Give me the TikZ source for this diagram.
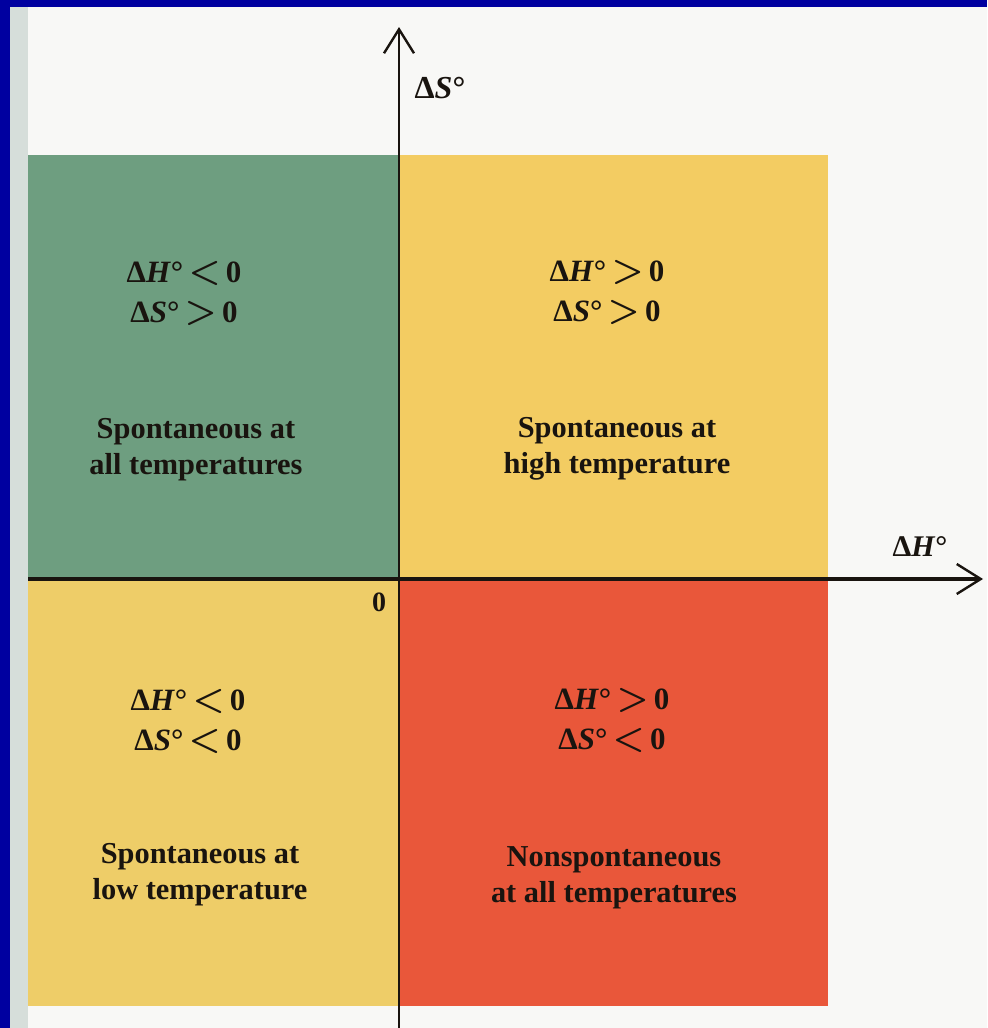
\documentclass[tikz,border=0pt]{standalone}
\usepackage{fontspec}
\setmainfont{Liberation Serif}
\usetikzlibrary{arrows.meta}
\definecolor{qgreen}{RGB}{110,158,128}
\definecolor{qyellow}{RGB}{243,204,98}
\definecolor{qyellowb}{RGB}{238,205,104}
\definecolor{qred}{RGB}{233,87,58}
\definecolor{paper}{RGB}{248,248,246}
\definecolor{leftstrip}{RGB}{214,222,218}
\definecolor{frameblue}{RGB}{0,0,160}
\definecolor{ink}{RGB}{25,20,15}
\newcommand{\rel}[1]{\,\scalebox{1.25}{\boldmath$#1$}\,}
\begin{document}
\begin{tikzpicture}[x=0.5pt,y=-0.5pt,
  cond/.style={align=center, text=ink, font=\fontsize{15.5}{20}\selectfont\bfseries, inner sep=0pt},
  desc/.style={align=center, text=ink, font=\fontsize{15.2}{18}\selectfont\bfseries, inner sep=0pt},
  axlabel/.style={text=ink, font=\fontsize{15}{18}\selectfont\bfseries, inner sep=0pt},
  axis/.style={line width=1.6pt, draw=ink, -{Straight Barb[length=12pt,width=15pt,line width=1.2pt]}}
]
% page and frame
\useasboundingbox (0,0) rectangle (987,1028);
\fill[paper] (0,0) rectangle (987,1028);
\fill[leftstrip] (10,0) rectangle (28,1028);
\fill[frameblue] (0,0) rectangle (987,7);
\fill[frameblue] (0,0) rectangle (10,1028);
% quadrants
\fill[qgreen] (28,155) rectangle (400,580);
\fill[qyellow] (400,155) rectangle (828,580);
\fill[qyellowb] (28,580) rectangle (400,1006);
\fill[qred] (400,580) rectangle (828,1006);
% axes
\coordinate (ybot) at (399,1028);
\coordinate (ytop) at (399,27);
\coordinate (xleft) at (28,579);
\coordinate (xright) at (983,579);
\draw[axis] (xleft) -- (xright);
\draw[axis, line width=1.4pt] (ybot) -- (ytop);
\node[axlabel, font=\fontsize{16}{18}\selectfont\bfseries] (ds) at (440,88) {Δ\textit{S}°};
\node[axlabel] (dh) at (920,547) {Δ\textit{H}°};
\node[axlabel, font=\fontsize{14}{16}\selectfont\bfseries] (zero) at (379,602) {0};
% quadrant texts
\node[cond] (c1) at (184,293) {Δ\textit{H}°\rel{<}0\\Δ\textit{S}°\rel{>}0};
\node[cond] (c2) at (607,292) {Δ\textit{H}°\rel{>}0\\Δ\textit{S}°\rel{>}0};
\node[cond] (c3) at (188,721) {Δ\textit{H}°\rel{<}0\\Δ\textit{S}°\rel{<}0};
\node[cond] (c4) at (612,720) {Δ\textit{H}°\rel{>}0\\Δ\textit{S}°\rel{<}0};
\node[desc] (d1) at (196,450) {Spontaneous at\\all temperatures};
\node[desc] (d2) at (617,449) {Spontaneous at\\high temperature};
\node[desc] (d3) at (200,875) {Spontaneous at\\low temperature};
\node[desc] (d4) at (614,878) {Nonspontaneous\\at all temperatures};
\end{tikzpicture}
\end{document}
